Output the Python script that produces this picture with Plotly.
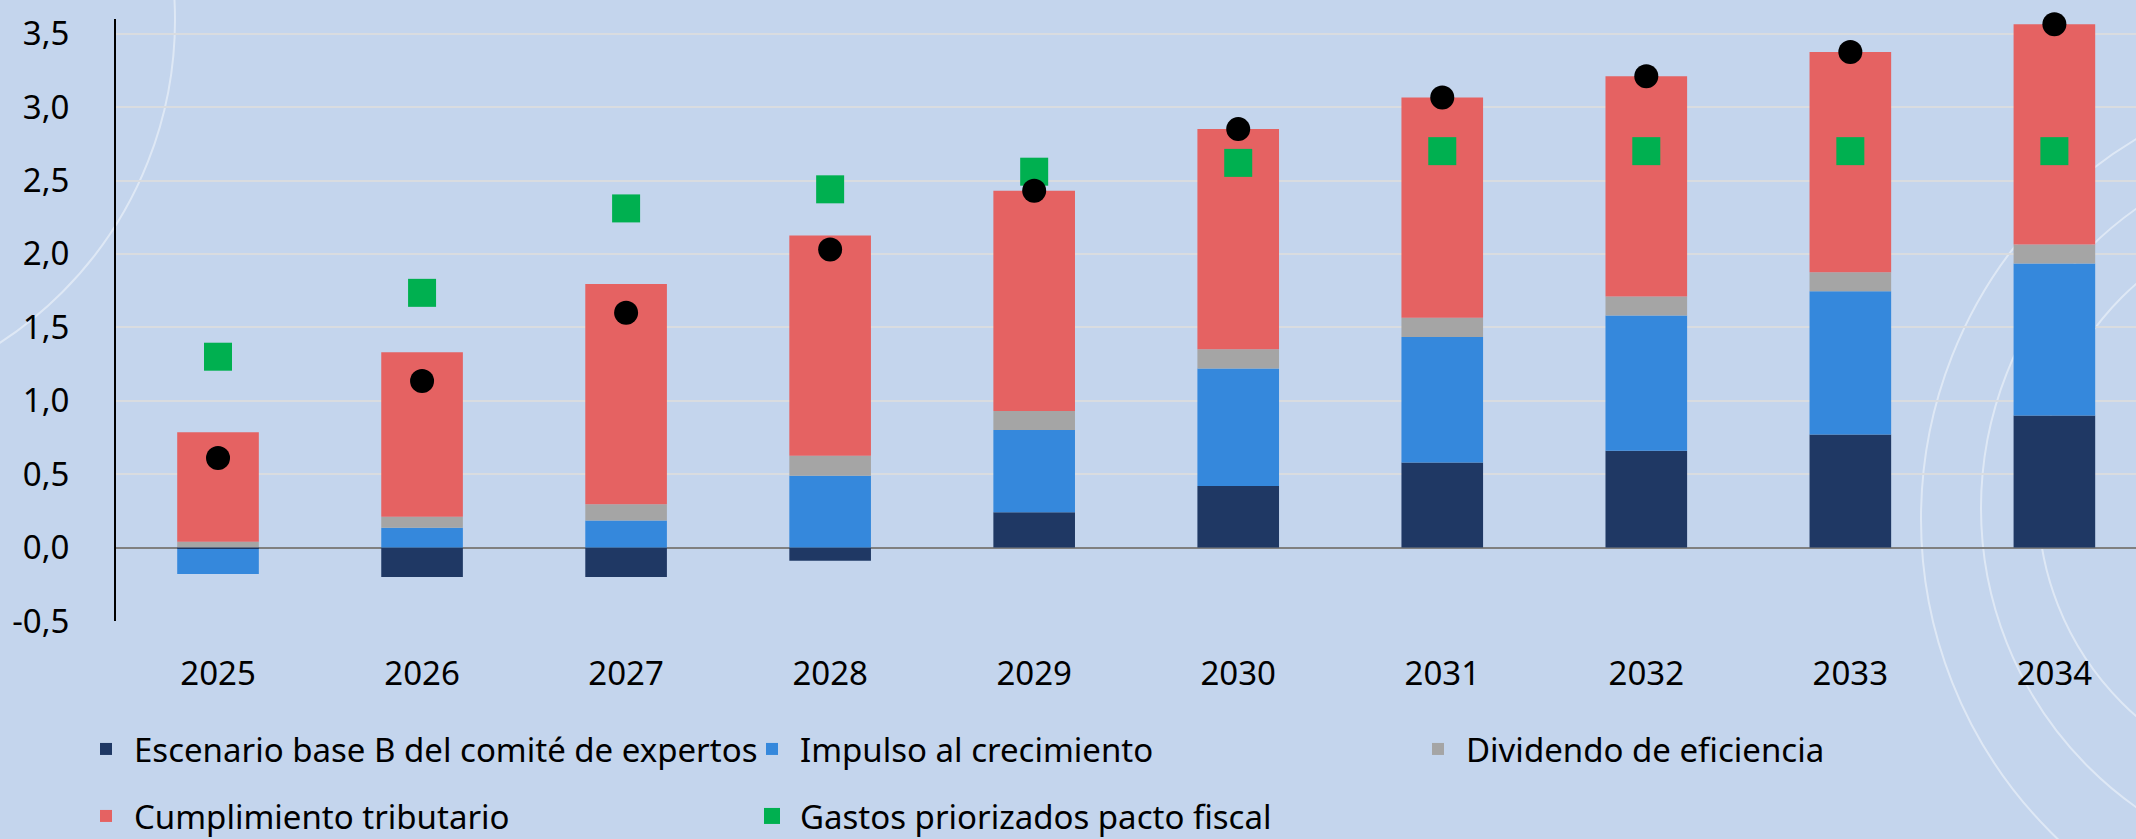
import plotly.graph_objects as go

years = ["2025", "2026", "2027", "2028", "2029", "2030", "2031", "2032", "2033", "2034"]
escenario_base = [-0.01, -0.20, -0.20, -0.09, 0.24, 0.42, 0.58, 0.66, 0.77, 0.90]
impulso = [-0.17, 0.135, 0.185, 0.49, 0.56, 0.80, 0.855, 0.92, 0.975, 1.035]
dividendo = [0.04, 0.075, 0.11, 0.135, 0.13, 0.13, 0.13, 0.13, 0.13, 0.13]
cumplimiento = [0.745, 1.12, 1.50, 1.50, 1.50, 1.50, 1.50, 1.50, 1.50, 1.50]
total = [0.61, 1.135, 1.60, 2.03, 2.43, 2.85, 3.065, 3.21, 3.375, 3.565]
gastos = [1.30, 1.735, 2.31, 2.44, 2.56, 2.62, 2.70, 2.70, 2.70, 2.70]

y_tickvals = [-0.5, 0.0, 0.5, 1.0, 1.5, 2.0, 2.5, 3.0, 3.5]
y_ticktext = ["-0,5", "0,0", "0,5", "1,0", "1,5", "2,0", "2,5", "3,0", "3,5"]

W, H = 2136, 839
ML, MR, MT, MB = 116, 0, 19, 218
PW, PH = W - ML - MR, H - MT - MB
FONT = "Noto Sans"
FS = 33
BG = "#C4D5ED"


def px_x(x):
    return (x - ML) / PW


def px_y(y):
    return (H - MB - y) / PH


fig = go.Figure()
fig.add_trace(go.Bar(x=years, y=escenario_base, name="Escenario base B del comité de expertos",
                     marker=dict(color="#1F3864", line=dict(width=0)), legend="legend"))
fig.add_trace(go.Bar(x=years, y=impulso, name="Impulso al crecimiento",
                     marker=dict(color="#3588DC", line=dict(width=0)), legend="legend"))
fig.add_trace(go.Bar(x=years, y=dividendo, name="Dividendo de eficiencia",
                     marker=dict(color="#A5A5A5", line=dict(width=0)), legend="legend"))
fig.add_trace(go.Bar(x=years, y=cumplimiento, name="Cumplimiento tributario",
                     marker=dict(color="#E56262", line=dict(width=0)), legend="legend2"))
fig.add_trace(go.Scatter(x=years, y=gastos, name="Gastos priorizados pacto fiscal", mode="markers",
                         marker=dict(symbol="square", size=28, color="#00B050"),
                         cliponaxis=False, legend="legend2"))
fig.add_trace(go.Scatter(x=years, y=total, name="Total", mode="markers",
                         marker=dict(symbol="circle", size=24, color="#000000"),
                         cliponaxis=False, showlegend=False))

# decorative background arcs
arcs = [(-210, 20, 385), (2364, 519, 443), (2347, 508, 366), (2325, 500, 287)]
shapes = []
for cx, cy, r in arcs:
    shapes.append(dict(type="circle", xref="paper", yref="paper",
                       x0=px_x(cx - r), x1=px_x(cx + r), y0=px_y(cy + r), y1=px_y(cy - r),
                       line=dict(color="rgba(255,255,255,0.45)", width=2), layer="below"))

legend_common = dict(orientation="h", font=dict(family=FONT, size=FS, color="#000000"),
                     bgcolor="rgba(0,0,0,0)", entrywidth=605, entrywidthmode="pixels",
                     itemwidth=46,
                     xanchor="left", yanchor="middle", itemsizing="trace",
                     traceorder="normal")

fig.update_layout(
    width=W, height=H,
    margin=dict(l=ML, r=MR, t=MT, b=MB, autoexpand=False),
    paper_bgcolor=BG, plot_bgcolor=BG,
    barmode="relative", bargap=0.6,
    font=dict(family=FONT, size=FS, color="#000000"),
    shapes=shapes,
    showlegend=True,
    legend=dict(x=px_x(78), y=px_y(749), **legend_common),
    legend2=dict(x=px_x(78), y=px_y(816), **legend_common),
    xaxis=dict(type="category", range=[-0.5, 9.4], showgrid=False, showline=False,
               zeroline=False, ticks="", ticklabelstandoff=30,
               tickfont=dict(family=FONT, size=FS, color="#000000")),
    yaxis=dict(range=[-0.5, 3.6], tickvals=y_tickvals, ticktext=y_ticktext,
               showgrid=True, gridcolor="#D9DCE0", gridwidth=2,
               zeroline=True, zerolinecolor="#808080", zerolinewidth=2,
               showline=True, linecolor="#000000", linewidth=2,
               ticks="", ticklabelstandoff=38,
               tickfont=dict(family=FONT, size=FS, color="#000000")),
)

fig.write_html("out.html")
